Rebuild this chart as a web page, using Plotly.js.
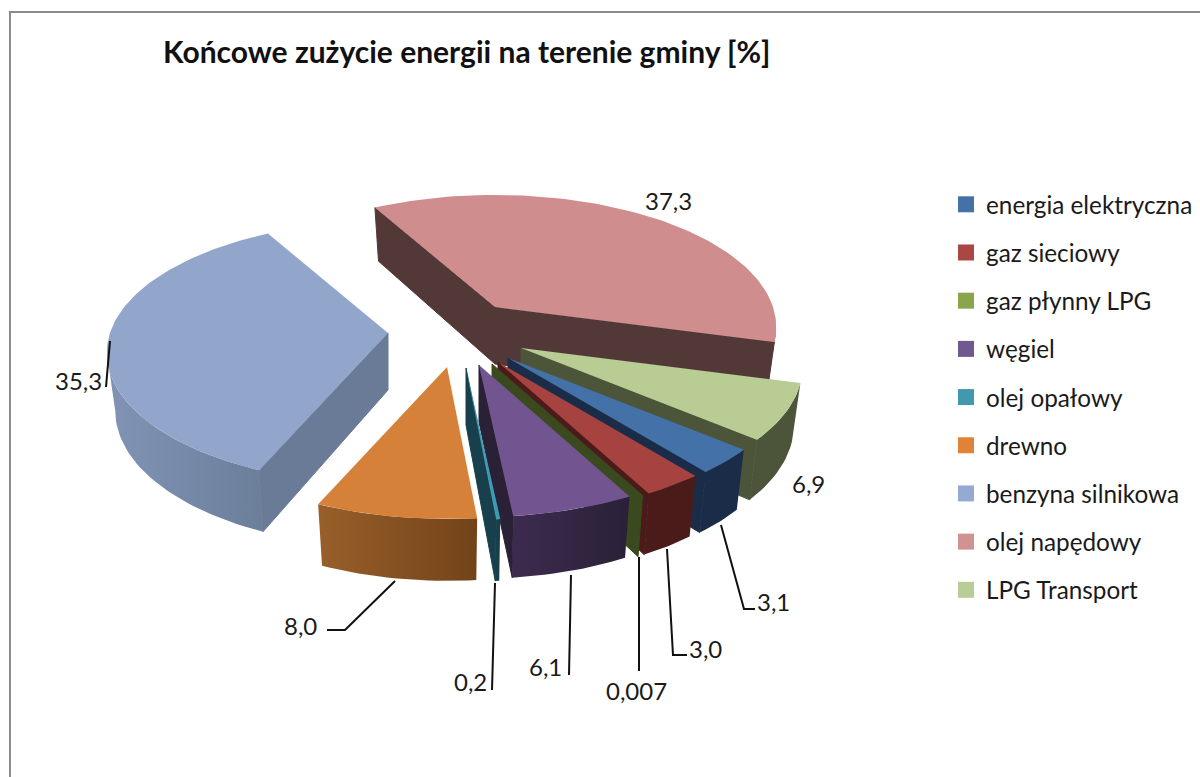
<!DOCTYPE html>
<html><head><meta charset="utf-8">
<script src="https://cdn.plot.ly/plotly-3.0.1.min.js"></script>
<style>html,body{margin:0;padding:0;background:#fff}#c{width:1200px;height:777px}</style>
</head><body><div id="c"></div>
<script>
// ---- data ----
const categories = ["energia elektryczna","gaz sieciowy","gaz płynny LPG","węgiel","olej opałowy","drewno","benzyna silnikowa","olej napędowy","LPG Transport"];
const values = [3.1, 3.0, 0.007, 6.1, 0.2, 8.0, 35.3, 37.3, 6.9];
const valueLabels = ["3,1","3,0","0,007","6,1","0,2","8,0","35,3","37,3","6,9"];
const chartTitle = "Końcowe zużycie energii na terenie gminy [%]";

// ---- styles ----
const legendColors = ["#4472a8","#aa4643","#8aa64c","#71588f","#4198af","#e08238","#95aad3","#d09391","#b9cd96"];
const topColors    = ["#4471a7","#a6423f","#8aa64c","#725590","#3b9cb3","#d6813a","#92a6cb","#cf8e8d","#b8cc94"];
const sideColors   = ["#1a2c47","#4a1b18","#3a4a1e","#2a2137","#17404c","#724319","#6a7b97","#533838","#4c553a"];
const wallLeft     = ["#1a2c47","#4a1b18","#3a4a1e","#3d2b4f","#17404c","#985f2a","#8294b5","#533838","#4c553a"];
const wallRight    = ["#1a2c47","#4a1b18","#3a4a1e","#2a2137","#17404c","#724319","#6b7e9a","#533838","#4c553a"];
// exploded position of each slice's tip on the 1200x777 axes
const tipX = [508,498,492,479,466,447,388,495,521];
const tipY = [358,362,364,365,368,367,333,307,348];
const drawOrder = [7,8,0,1,2,3,4,5,6];
const startAngle = -40, R = 278, Ry = 129, persp = 0.151, depth = 57, wallShrink = 0.97;
// label placement
const labelX = [773,705,636,545,470,300,78,668,808];
const labelY = [601,648,690,666,681,625,380,200,483];
const leaders = [
  [[721,525],[744,609],[755,609]],
  [[667,549],[673,655],[687,655]],
  [[639,557],[639,671]],
  [[571,575],[569,675]],
  [[495,583],[492,690]],
  [[395,581],[345,630],[327,630]],
  [[110,341],[106,387]],
  null, null
];

// ---- geometry from the values ----
const total = values.reduce((a,b)=>a+b,0);
function pr(i,tDeg,bottom){
  const t=tDeg*Math.PI/180, p=1/(1+persp*Math.sin(t));
  const k=bottom?wallShrink:1;
  return [tipX[i]+R*Math.cos(t)*p*k,
          tipY[i]-Ry*Math.sin(t)*p+(bottom?depth*Math.sqrt(p):0)];
}
function arc(i,a,b,bottom){ // from a to b, degrees, either way
  const n=Math.max(2,Math.ceil(Math.abs(a-b)/1.5)),o=[];
  for(let j=0;j<=n;j++)o.push(pr(i,a+(b-a)*j/n,bottom));
  return o;
}
function polyTrace(i,pts,color,grad,lw){
  const t={type:"scatter",mode:"lines",x:pts.map(q=>q[0]),y:pts.map(q=>q[1]),fill:"toself",
    fillcolor:color,line:{width:lw||0,color:color},hoverinfo:"skip",showlegend:false,legendgroup:categories[i]};
  if(grad)t.fillgradient={type:"horizontal",colorscale:[[0,grad[0]],[1,grad[1]]]};
  return t;
}
const traces=[];
categories.forEach((c,i)=>traces.push({type:"scatter",mode:"markers",x:[null],y:[null],name:c,legendgroup:c,
  marker:{symbol:"square",size:16,color:legendColors[i]},hoverinfo:"skip"}));
const bounds=[];let acc=startAngle;
values.forEach(v=>{const e=acc-v/total*360;bounds.push([acc,e]);acc=e;});
// the rim is widest where sin(t) = -persp: the curved wall runs between those two points
const widest=Math.asin(persp)*180/Math.PI;

drawOrder.forEach(i=>{
  const [a,b]=bounds[i], tip=[tipX[i],tipY[i]], A=pr(i,a,false), B=pr(i,b,false);
  const tipB=[tipX[i],tipY[i]+depth];
  const cross=(u,v)=>u[0]*v[1]-u[1]*v[0], sub=(p,q)=>[p[0]-q[0],p[1]-q[1]];
  const vis=(E,O)=>{const v=sub(E,tip);return cross(v,[0,1])*cross(v,sub(O,tip))<0;};
  // flat cut walls
  if(vis(A,B)) traces.push(polyTrace(i,[tip,A,pr(i,a,true),tipB,tip],sideColors[i],null,1));
  if(vis(B,A)) traces.push(polyTrace(i,[tip,B,pr(i,b,true),tipB,tip],sideColors[i],null,1));
  // curved outer wall
  [0,-360].forEach(turn=>{
    const hi=Math.min(a,-widest+turn), lo=Math.max(b,-180+widest+turn);
    if(hi>lo){
      const top=arc(i,hi,lo,false), bot=arc(i,lo,hi,true);
      traces.push(polyTrace(i,top.concat(bot,[top[0]]),wallRight[i],[wallLeft[i],wallRight[i]]));
    }
  });
  // top face
  traces.push(polyTrace(i,[tip].concat(arc(i,a,b,false),[tip]),topColors[i]));
});

const font="Lato, 'Open Sans', sans-serif";
const annotations=valueLabels.map((s,i)=>({text:s,x:labelX[i],y:labelY[i],xref:"x",yref:"y",showarrow:false,
  font:{family:font,size:24,color:"#1a1a1a"},xanchor:"center",yanchor:"middle"}));
const shapes=[{type:"rect",xref:"x",yref:"y",x0:10,x1:1220,y0:12,y1:800,line:{color:"#8c8c8c",width:2},fillcolor:"rgba(0,0,0,0)"}];
leaders.forEach(l=>{if(l)shapes.push({type:"path",xref:"x",yref:"y",
  path:"M"+l.map(p=>p[0]+" "+p[1]).join(" L"),line:{color:"#111",width:2}});});

Plotly.newPlot("c",traces,{
  width:1200,height:777,margin:{l:0,r:0,t:0,b:0,pad:0},
  paper_bgcolor:"#fff",plot_bgcolor:"#fff",
  title:{text:"<b>"+chartTitle+"</b>",x:163/1200,xanchor:"left",xref:"paper",y:1-52/777,yanchor:"middle",yref:"paper",
    font:{family:font,size:30,color:"#111"}},
  xaxis:{range:[0,1200],visible:false,fixedrange:true},
  yaxis:{range:[777,0],visible:false,fixedrange:true},
  showlegend:true,
  legend:{x:946/1200,y:1-182/777,xanchor:"left",yanchor:"top",font:{family:font,size:24.3,color:"#1a1a1a"},
    tracegroupgap:13.6,itemwidth:30,bgcolor:"rgba(0,0,0,0)",traceorder:"grouped"},
  annotations,shapes
},{staticPlot:true,displayModeBar:false});
</script></body></html>
